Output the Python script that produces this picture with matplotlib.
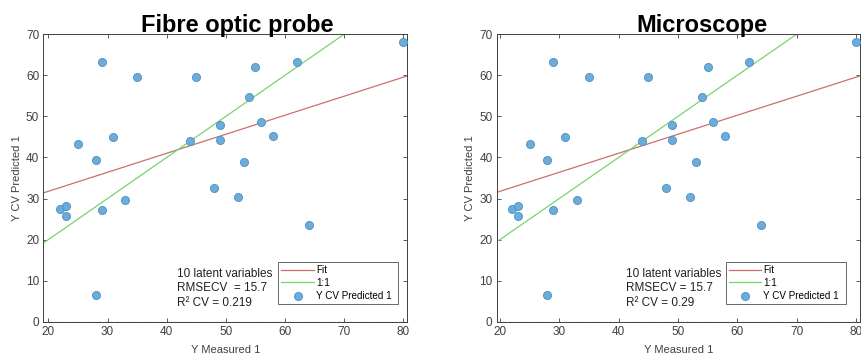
import numpy as np
import matplotlib
matplotlib.use("Agg")
import matplotlib.pyplot as plt

plt.rcParams['font.family'] = ['Liberation Sans', 'DejaVu Sans']

# measured vs CV predicted (same samples in both panels)
y_measured = [29, 35, 45, 62, 80, 55, 54, 56, 58, 49, 49, 44, 53, 48, 52, 64,
              25, 31, 28, 33, 29, 22, 23, 23, 28]
y_predicted = [63.3, 59.5, 59.6, 63.3, 68.1, 62.0, 54.8, 48.7, 45.3, 47.8, 44.2, 43.9,
               38.9, 32.6, 30.4, 23.6, 43.4, 44.9, 39.4, 29.6, 27.3, 27.4, 28.3, 25.8, 6.4]

titles = ["Fibre optic probe", "Microscope"]
fit_slope = [0.463, 0.463]
fit_intercept = [22.5, 22.5]
rmsecv_text = ["RMSECV  = 15.7", "RMSECV = 15.7"]
r2_text = ["R\u00b2 CV = 0.219", "R\u00b2 CV = 0.29"]
xlims = [(19.15, 80.7), (19.45, 80.7)]
positions = [[0.0503, 0.0963, 0.4222, 0.8074], [0.5762, 0.0963, 0.4215, 0.8074]]
title_x = [0.533, 0.565]
text_x = [0.368, 0.356]
legend_box = [(0.646, 0.062, 0.329, 0.146), (0.630, 0.062, 0.332, 0.146)]

fig = plt.figure(figsize=(8.62, 3.56), dpi=100)

for i in range(2):
    ax = fig.add_axes(positions[i])
    x0, x1 = xlims[i]
    xs = np.array([x0, x1])
    ax.plot(xs, fit_slope[i] * xs + fit_intercept[i], color='#c8706a', lw=0.9, label='Fit')
    ax.plot(xs, xs, color='#77d46a', lw=0.9, label='1:1')
    ax.scatter(y_measured, y_predicted, s=34, facecolor='#6badd8', edgecolor='#4a8fc2',
               linewidth=0.6, zorder=3, label='Y CV Predicted 1')
    ax.axhline(0, color='#333333', ls='--', lw=0.8, dashes=(3, 2))
    ax.set_xlim(x0, x1)
    ax.set_ylim(0, 70)
    ax.set_xticks([20, 30, 40, 50, 60, 70, 80])
    ax.set_yticks(range(0, 71, 10))
    ax.tick_params(direction='in', top=True, right=True, length=3, width=0.6,
                   labelsize=8.5, colors='#404040', pad=3)
    for sp in ax.spines.values():
        sp.set_color('#404040')
        sp.set_linewidth(0.7)
    ax.set_xlabel('Y Measured 1', fontsize=8, color='#404040', labelpad=5)
    ax.set_ylabel('Y CV Predicted 1', fontsize=8, color='#404040', labelpad=3)
    ax.set_title(titles[i], fontsize=17, fontweight='bold', pad=2, x=title_x[i])
    ax.text(text_x[i], 0.188, '10 latent variables\n' + rmsecv_text[i] + '\n' + r2_text[i],
            transform=ax.transAxes, fontsize=8.5, va='top', linespacing=1.28, color='#222222')
    leg = ax.legend(loc='center', bbox_to_anchor=legend_box[i], mode='expand',
                    fontsize=7.1, frameon=True, fancybox=False, handlelength=3.3,
                    borderpad=0.3, labelspacing=0.3, handletextpad=0.2, borderaxespad=0)
    leg.get_frame().set_edgecolor('#404040')
    leg.get_frame().set_linewidth(0.7)

fig.savefig('out.png', dpi=100)
